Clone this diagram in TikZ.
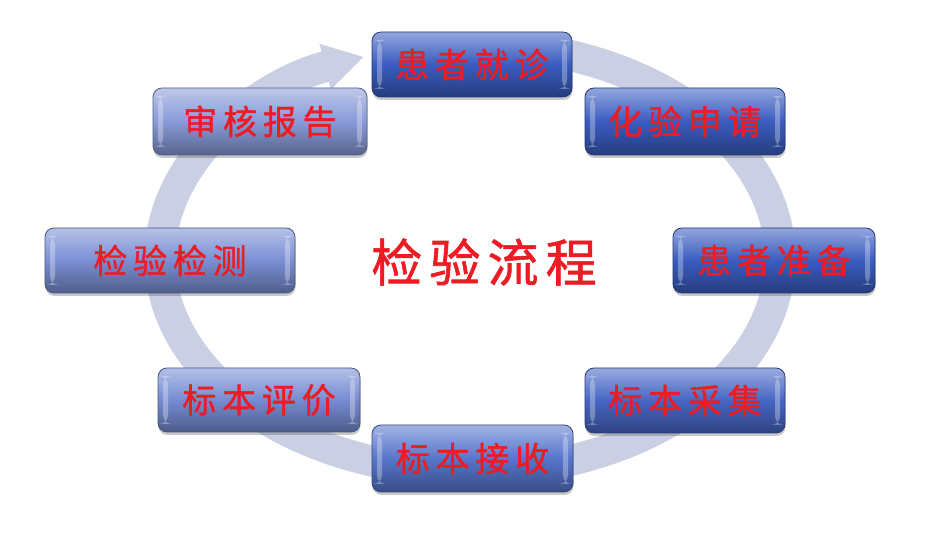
\documentclass[tikz,border=0pt]{standalone}
\usepackage{fontspec}
\newfontfamily\cjk[FakeBold=1.2]{Noto Sans CJK SC}
\usetikzlibrary{shadows,arrows.meta}
\definecolor{ringcol}{RGB}{202,207,228}
\definecolor{txtred}{RGB}{236,28,36}
\definecolor{cA}{RGB}{58,92,192}
\definecolor{cB}{RGB}{70,102,196}
\definecolor{cC}{RGB}{86,118,203}
\definecolor{cD}{RGB}{118,140,210}
\definecolor{cE}{RGB}{122,143,212}
\definecolor{cF}{RGB}{136,154,216}
\newcommand\gapc{\hspace{0.17em}}
\newcommand\gapt{\hspace{0.14em}}
\begin{document}
\begin{tikzpicture}[x=1pt,y=1pt,
  flowbox/.style={rounded corners=9pt, inner sep=0pt, line width=0.8pt,
    font=\cjk\fontsize{34}{34}\selectfont, text=txtred,
    drop shadow={shadow xshift=0.5pt, shadow yshift=-3pt, opacity=0.3, fill=black!70},
    path picture={
      \fill[white,opacity=0.3] ([xshift=5pt,yshift=-8pt]path picture bounding box.north west) rectangle ([xshift=10pt,yshift=8pt]path picture bounding box.south west);
      \fill[white,opacity=0.3] ([xshift=-10pt,yshift=-8pt]path picture bounding box.north east) rectangle ([xshift=-5pt,yshift=8pt]path picture bounding box.south east);
    }},
  tone/.style={draw=#1!60!black, top color=#1!55!white, bottom color=#1!65!black, middle color=#1},
  ringline/.style={line width=31pt, draw=ringcol, -{Triangle[length=40pt,width=44pt]}},
  title/.style={font=\cjk\fontsize{51}{51}\selectfont, text=txtred}
]
\fill[white] (0,0) rectangle (936,534);
\useasboundingbox (0,0) rectangle (936,534);
\coordinate (ctr) at (470,276);
\draw[ringline] ([shift={(76:310pt and 214pt)}]ctr) arc[start angle=76, end angle=-250, x radius=310pt, y radius=214pt];
\node[title] (t) at (484,272) {检\gapt 验\gapt 流\gapt 程};
\node[flowbox, tone=cA, minimum width=200pt, minimum height=65pt] (a) at (472,469.5) {患\gapc 者\gapc 就\gapc 诊};
\node[flowbox, tone=cA, minimum width=200pt, minimum height=67pt] (b) at (685,412.5) {化\gapc 验\gapc 申\gapc 请};
\node[flowbox, tone=cA, minimum width=202pt, minimum height=65pt] (c) at (774,273.5) {患\gapc 者\gapc 准\gapc 备};
\node[flowbox, tone=cB, minimum width=200pt, minimum height=65pt] (d) at (685,133.5) {标\gapc 本\gapc 采\gapc 集};
\node[flowbox, tone=cC, minimum width=201pt, minimum height=67pt] (e) at (472.5,75.5) {标\gapc 本\gapc 接\gapc 收};
\node[flowbox, tone=cD, minimum width=202pt, minimum height=64pt] (f) at (259,134) {标\gapc 本\gapc 评\gapc 价};
\node[flowbox, tone=cE, minimum width=250pt, minimum height=65pt] (g) at (170,273.5) {检\gapc 验\gapc 检\gapc 测};
\node[flowbox, tone=cF, minimum width=214pt, minimum height=67pt] (h) at (260,412.5) {审\gapc 核\gapc 报\gapc 告};
\end{tikzpicture}
\end{document}
